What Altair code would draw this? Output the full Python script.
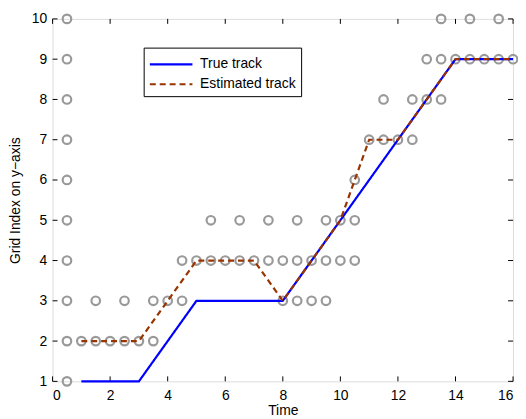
import altair as alt
import pandas as pd

# Observed grid cells (hollow gray circles)
obs_t = [0.5]*10 + [1, 1.5, 1.5, 2, 2.5, 2.5, 3, 3.5, 3.5, 4, 4.5, 4.5, 5, 5.5, 5.5, 6, 6.5, 6.5, 7, 7.5, 7.5,
         8, 8, 8.5, 8.5, 8.5, 9, 9, 9.5, 9.5, 9.5, 10, 10, 10.5, 10.5, 10.5,
         11, 11.5, 11.5, 12, 12.5, 12.5, 13, 13, 13.5, 13.5, 13.5, 14, 14.5, 14.5, 15, 15.5, 15.5, 16]
obs_y = [1, 2, 3, 4, 5, 6, 7, 8, 9, 10] + [2, 2, 3, 2, 2, 3, 2, 2, 3, 3, 3, 4, 4, 4, 5, 4, 4, 5, 4, 4, 5,
         3, 4, 3, 4, 5, 3, 4, 3, 4, 5, 4, 5, 4, 5, 6,
         7, 7, 8, 7, 7, 8, 8, 9, 8, 9, 10, 9, 9, 10, 9, 9, 10, 9]

true_t = [1, 3, 5, 8, 14, 16]
true_y = [1, 1, 3, 3, 9, 9]

est_t = [1, 3, 5, 7, 8, 9, 10, 11, 12, 14, 16]
est_y = [2, 2, 4, 4, 3, 4, 5, 7, 7, 9, 9]

x_ticks = [0, 2, 4, 6, 8, 10, 12, 14, 16]
y_ticks = [1, 2, 3, 4, 5, 6, 7, 8, 9, 10]
series = ["True track", "Estimated track"]

W, H = 465, 366
FONT = "Liberation Sans"
FS = 14

obs = pd.DataFrame({"t": obs_t, "y": obs_y})
tracks = pd.concat([
    pd.DataFrame({"t": true_t, "y": true_y, "track": series[0], "o": 0}),
    pd.DataFrame({"t": est_t, "y": est_y, "track": series[1], "o": 1}),
])

xs = alt.Scale(domain=[0, 16], nice=False, zero=False)
ys = alt.Scale(domain=[1, 10], nice=False, zero=False)

xax = alt.Axis(values=x_ticks, ticks=False, grid=False, domain=False, labelPadding=7,
               labelFontSize=FS, labelFont=FONT, labelColor="black", title="Time",
               titleFont=FONT, titleFontSize=FS, titleFontWeight="normal", titleColor="black",
               titlePadding=1)
yax = alt.Axis(values=y_ticks, ticks=False, grid=False, domain=False, labelPadding=6,
               labelFontSize=FS, labelFont=FONT, labelColor="black", title="Grid Index on y\u2212axis",
               titleFont=FONT, titleFontSize=FS, titleFontWeight="normal", titleColor="black",
               titlePadding=9)

points = alt.Chart(obs).mark_point(shape="circle", filled=False, color="#999999",
                                   strokeWidth=2.2, size=75, opacity=1).encode(
    x=alt.X("t:Q", scale=xs, axis=xax),
    y=alt.Y("y:Q", scale=ys, axis=yax),
)

leg = dict(title=None, orient="none", legendX=92, legendY=29,
           symbolType="M-1,0H3", symbolSize=462, symbolStrokeWidth=2.2,
           labelFont=FONT, labelFontSize=FS, labelColor="black",
           strokeColor="black", fillColor="white", padding=5,
           rowPadding=1, labelOffset=28)

lines = alt.Chart(tracks).mark_line(strokeWidth=2.2).encode(
    x=alt.X("t:Q", scale=xs),
    y=alt.Y("y:Q", scale=ys),
    detail="track:N",
    order="o:Q",
    color=alt.Color("track:N", scale=alt.Scale(domain=series, range=["#0000FF", "#993300"]),
                    legend=alt.Legend(**leg)),
    strokeDash=alt.StrokeDash("track:N", scale=alt.Scale(domain=series, range=[[1, 0], [6, 4]]),
                              legend=alt.Legend(**leg)),
)

xt = pd.DataFrame({"v": x_ticks})
yt = pd.DataFrame({"v": y_ticks})
tick_bottom = alt.Chart(xt).mark_rule(color="black", strokeWidth=1).encode(
    x=alt.X("v:Q", scale=xs), y=alt.value(H), y2=alt.value(H - 5))
tick_top = alt.Chart(xt).mark_rule(color="black", strokeWidth=1).encode(
    x=alt.X("v:Q", scale=xs), y=alt.value(0), y2=alt.value(5))
tick_left = alt.Chart(yt).mark_rule(color="black", strokeWidth=1).encode(
    y=alt.Y("v:Q", scale=ys), x=alt.value(0), x2=alt.value(5))
tick_right = alt.Chart(yt).mark_rule(color="black", strokeWidth=1).encode(
    y=alt.Y("v:Q", scale=ys), x=alt.value(W), x2=alt.value(W - 5))

chart = alt.layer(tick_bottom, tick_top, tick_left, tick_right, points, lines).properties(
    width=W, height=H,
    autosize=alt.AutoSizeParams(type="none"),
    padding={"left": 45, "top": 9, "right": 5, "bottom": 36},
).configure_view(stroke="black", strokeWidth=1.5, clip=False).configure(background="white")

chart.save("out.html", embed_options={"renderer": "svg", "actions": False})
